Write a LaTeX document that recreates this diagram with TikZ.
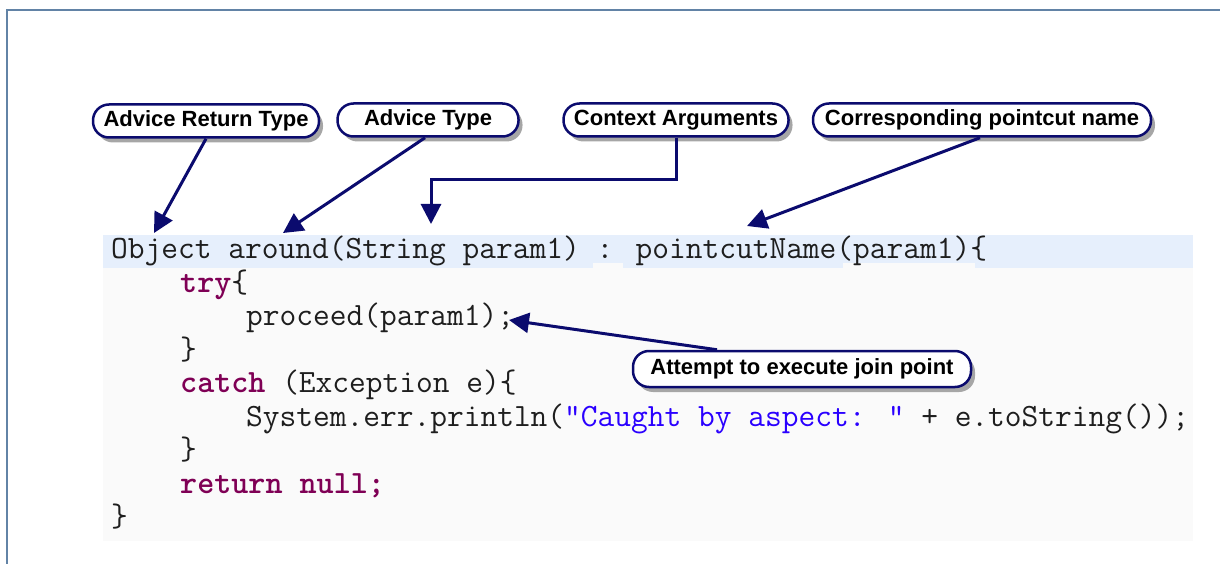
\documentclass[tikz,border=0pt]{standalone}
\usepackage{fontspec}
\newfontfamily\calloutfont{Liberation Sans}
\usetikzlibrary{arrows.meta,shadows}

\definecolor{navyline}{HTML}{0B0B6E}
\definecolor{frameblue}{HTML}{6283A6}
\definecolor{codebg}{HTML}{FAFAFA}
\definecolor{linebg}{HTML}{E6EFFC}
\definecolor{keyword}{HTML}{7F0055}
\definecolor{strblue}{HTML}{2A00FF}
\definecolor{codetext}{HTML}{1E1E1E}

\newcommand{\kw}[1]{{\bfseries\color{keyword}#1}}
\newcommand{\strlit}[1]{{\color{strblue}#1}}

\begin{document}
\begin{tikzpicture}[x=1pt,y=-1pt,
    callout/.style={draw=navyline,line width=2.5pt,fill=white,rounded corners=16pt,
        minimum height=33pt,inner sep=0pt,
        font=\calloutfont\bfseries\fontsize{22}{24}\selectfont,
        drop shadow={shadow xshift=4pt,shadow yshift=-5pt,fill=black!35,opacity=1}},
    pointer/.style={draw=navyline,line width=3pt,-{Triangle[length=20pt,width=20pt]}},
    code/.style={anchor=base west,inner sep=0pt,text=codetext,
        font=\ttfamily\fontsize{32.5}{34}\selectfont}]
    \useasboundingbox (0,0) rectangle (1220,564);

    \fill[codebg] (103,235) rectangle (1193,541); % code area
    \fill[linebg] (103,235) rectangle (1193,268); % first line
    \fill[codebg] (593,263) rectangle (623,268);
    \fill[codebg] (843,263) rectangle (975,268);
    \draw[frameblue,line width=1.5pt] (7,564) -- (7,10) -- (1220,10); % frame

    \node[code] (N1) at (111,258) {Object around(String param1) : pointcutName(param1)\{};
    \node[code] (N2) at (180,292) {\kw{try}\{};
    \node[code] (N3) at (246,325) {proceed(param1);};
    \node[code] (N4) at (180,359) {\}};
    \node[code] (N5) at (180,392) {\kw{catch} (Exception e)\{};
    \node[code] (N6) at (246,426) {System.err.println(\strlit{"Caught by aspect: "} + e.toString());};
    \node[code] (N7) at (180,459) {\}};
    \node[code] (N8) at (180,493) {\kw{return null;}};
    \node[code] (N9) at (111,526) {\}};

    \node[callout,minimum width=226pt] (C1) at (206,121) {Advice Return Type};
    \node[callout,minimum width=181pt] (C2) at (428,120) {Advice Type};
    \node[callout,minimum width=225pt] (C3) at (676,120) {Context Arguments};
    \node[callout,minimum width=338pt] (C4) at (982,120) {Corresponding pointcut name};
    \node[callout,minimum width=338pt,minimum height=36pt] (C5) at (802,369) {Attempt to execute join point};

    \coordinate (P1) at (154,233);
    \coordinate (P2) at (283,233);
    \coordinate (K3) at (431,180); % bend
    \coordinate (P3) at (431,224);
    \coordinate (P4) at (747,226);
    \coordinate (P5) at (509,320);

    \draw[pointer] (C1.south) -- (P1); % return type
    \draw[pointer] ([xshift=-3pt]C2.south) -- (P2); % advice type
    \draw[pointer] (C3.south) |- (K3) -- (P3); % arguments
    \draw[pointer] ([xshift=-2pt]C4.south) -- (P4); % pointcut
    \draw[pointer] ([xshift=-85pt]C5.north) -- (P5); % join point
\end{tikzpicture}
\end{document}
